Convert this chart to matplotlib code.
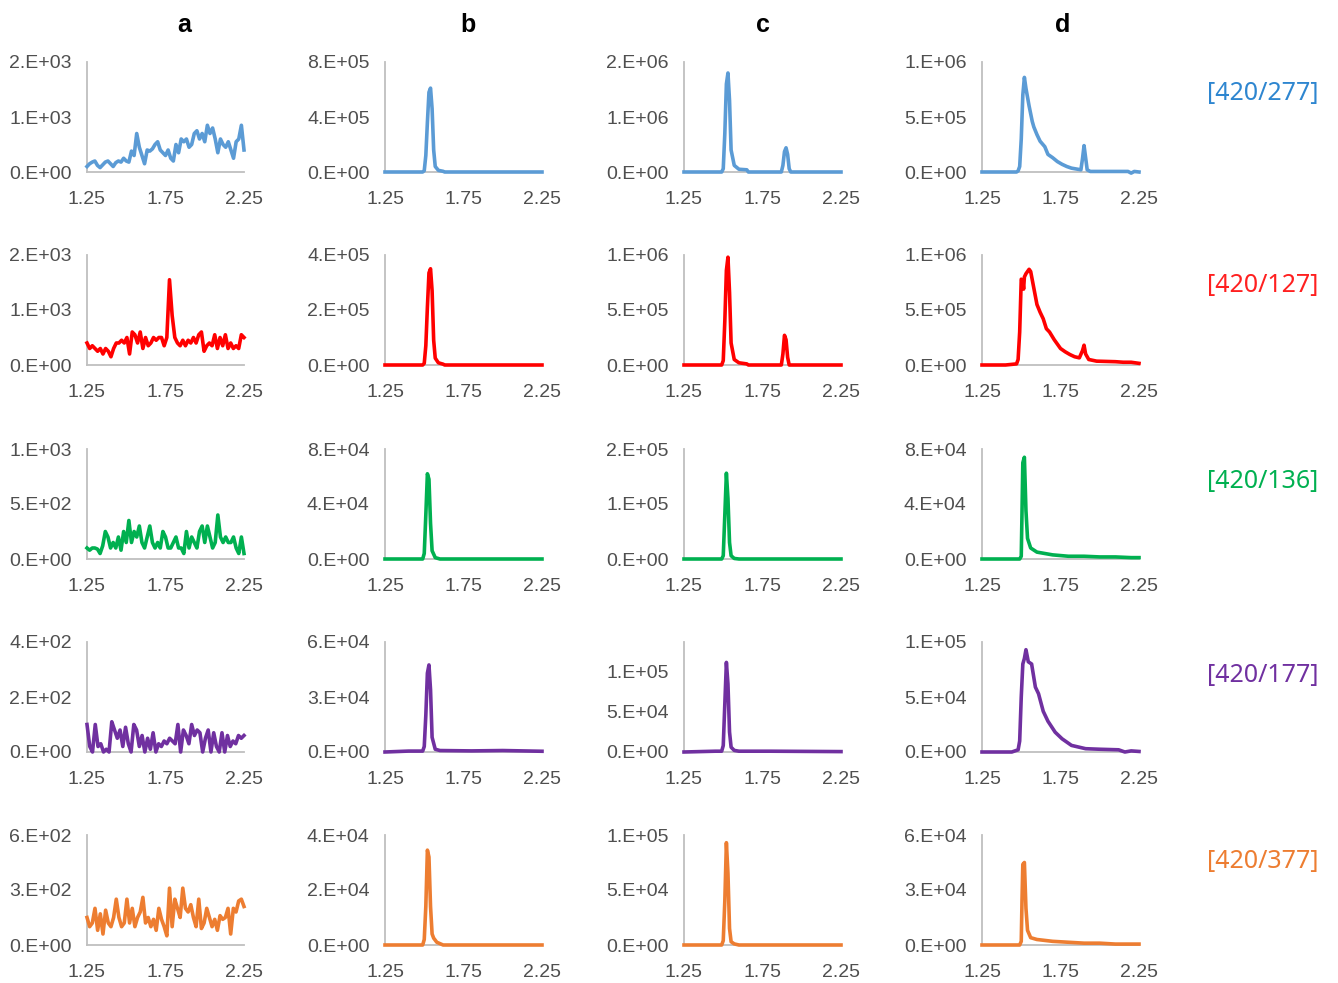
import numpy as np
import matplotlib
matplotlib.use("Agg")
import matplotlib.pyplot as plt
from matplotlib.ticker import FuncFormatter

#%% ---------- Data -----------------------------------
col_titles = ["a", "b", "c", "d"]
row_labels = ["[420/277]", "[420/127]", "[420/136]", "[420/177]", "[420/377]"]
line_colors = ["#5B9BD5", "#FF0000", "#00B050", "#7030A0", "#ED7D31"]
label_colors = ["#2E86D0", "#FF2020", "#00B050", "#7030A0", "#ED7D31"]
xticks = [1.25, 1.75, 2.25]

# column a: noisy traces, evenly sampled between 1.25 and 2.25
a_277 = [100, 150, 180, 200, 120, 80, 130, 180, 200, 150, 100, 170, 200, 180, 250, 200, 180, 380,
         300, 700, 450, 300, 150, 400, 380, 420, 500, 550, 400, 350, 300, 400, 250, 200, 500, 350,
         600, 550, 600, 450, 500, 700, 750, 600, 700, 550, 850, 700, 800, 600, 350, 600, 500, 450,
         550, 400, 250, 550, 600, 850, 400]
a_127 = [400, 300, 350, 300, 250, 300, 200, 300, 250, 150, 300, 400, 400, 450, 400, 500, 200, 600,
         550, 400, 600, 300, 500, 350, 400, 500, 450, 500, 500, 350, 500, 1550, 900, 500, 400, 350,
         450, 350, 450, 400, 500, 400, 550, 600, 250, 350, 400, 350, 550, 300, 500, 350, 550, 300,
         400, 300, 350, 300, 550, 500]
a_136 = [100, 80, 100, 100, 90, 50, 120, 250, 200, 100, 150, 100, 200, 80, 250, 150, 350, 150, 250,
         200, 300, 150, 100, 200, 300, 150, 100, 150, 100, 250, 200, 100, 100, 150, 200, 100, 100,
         50, 250, 100, 200, 150, 100, 250, 300, 150, 300, 200, 100, 150, 400, 200, 150, 200, 150,
         150, 200, 100, 50, 200, 50]
a_177 = [100, 20, 0, 100, 20, 30, 0, 10, 0, 110, 80, 50, 80, 20, 90, 30, 0, 100, 80, 20, 60, 0, 50,
         10, 70, 0, 30, 20, 40, 30, 50, 40, 30, 100, 0, 80, 60, 30, 100, 60, 80, 70, 0, 50, 80, 0,
         70, 20, 0, 70, 0, 60, 20, 40, 30, 60, 50, 60]
a_377 = [150, 100, 120, 200, 80, 170, 60, 190, 120, 100, 150, 250, 150, 100, 120, 250, 120, 200,
         100, 150, 180, 260, 120, 150, 100, 140, 80, 200, 140, 100, 50, 310, 100, 250, 200, 150,
         310, 200, 180, 220, 150, 100, 250, 90, 120, 200, 150, 100, 140, 80, 160, 140, 150, 200,
         60, 200, 180, 240, 250, 210]

# column b: single peak (x, y)
b_277_x = [1.25, 1.49, 1.50, 1.51, 1.52, 1.53, 1.54, 1.55, 1.56, 1.57, 1.59, 1.62, 1.63, 2.25]
b_277_y = [0, 0, 1e4, 1.2e5, 3.6e5, 5.8e5, 6.1e5, 4.6e5, 1.6e5, 4e4, 1.2e4, 5e3, 0, 0]
b_127_x = [1.25, 1.49, 1.50, 1.51, 1.52, 1.53, 1.54, 1.55, 1.56, 1.57, 1.59, 1.62, 1.63, 2.25]
b_127_y = [0, 0, 6e3, 7e4, 2.1e5, 3.35e5, 3.5e5, 2.7e5, 9e4, 2.5e4, 8e3, 3e3, 0, 0]
b_136_x = [1.25, 1.49, 1.50, 1.51, 1.52, 1.53, 1.54, 1.55, 1.57, 1.60, 2.25]
b_136_y = [0, 0, 4e3, 3.2e4, 6.2e4, 5.8e4, 2.6e4, 6e3, 1e3, 0, 0]
b_177_x = [1.25, 1.40, 1.49, 1.50, 1.51, 1.52, 1.53, 1.54, 1.55, 1.57, 1.60, 1.80, 2.00, 2.25]
b_177_y = [0, 500, 500, 3e3, 2.0e4, 4.3e4, 4.75e4, 3.4e4, 8e3, 1.5e3, 800, 600, 800, 400]
b_377_x = [1.25, 1.49, 1.50, 1.51, 1.52, 1.53, 1.54, 1.55, 1.56, 1.58, 1.62, 2.25]
b_377_y = [0, 0, 2e3, 1.4e4, 3.45e4, 3.2e4, 1.4e4, 4e3, 2.5e3, 1e3, 0, 0]

# column c: main peak plus a later peak in the first two rows
c_277_x = [1.25, 1.49, 1.50, 1.51, 1.52, 1.53, 1.54, 1.55, 1.57, 1.60, 1.65, 1.66, 1.87, 1.88,
           1.89, 1.90, 1.91, 1.92, 1.93, 2.25]
c_277_y = [0, 0, 6e4, 7e5, 1.6e6, 1.8e6, 1.3e6, 4e5, 1.2e5, 5e4, 4e4, 0, 0, 1.2e5, 3.7e5, 4.4e5,
           3.2e5, 6e4, 0, 0]
c_127_x = [1.25, 1.49, 1.50, 1.51, 1.52, 1.53, 1.54, 1.55, 1.57, 1.60, 1.65, 1.66, 1.87, 1.88,
           1.89, 1.90, 1.91, 1.92, 2.25]
c_127_y = [0, 0, 4e4, 4e5, 8.6e5, 9.8e5, 6.6e5, 2e5, 5e4, 2e4, 1e4, 0, 0, 1e5, 2.7e5, 2.3e5,
           7e4, 0, 0]
c_136_x = [1.25, 1.49, 1.50, 1.51, 1.52, 1.53, 1.54, 1.55, 1.57, 1.60, 2.25]
c_136_y = [0, 0, 6e3, 8e4, 1.56e5, 1.1e5, 3e4, 6e3, 1e3, 0, 0]
c_177_x = [1.25, 1.45, 1.49, 1.50, 1.51, 1.52, 1.53, 1.54, 1.55, 1.57, 1.60, 1.80, 2.25]
c_177_y = [0, 1e3, 1e3, 8e3, 6e4, 1.12e5, 8.5e4, 2.5e4, 6e3, 2e3, 1e3, 1e3, 500]
c_377_x = [1.25, 1.49, 1.50, 1.51, 1.52, 1.53, 1.54, 1.55, 1.57, 1.60, 2.25]
c_377_y = [0, 0, 4e3, 4e4, 9.3e4, 6.5e4, 1.5e4, 3e3, 1e3, 0, 0]

# column d: tailing peaks
d_277_x = [1.25, 1.47, 1.48, 1.49, 1.50, 1.51, 1.52, 1.53, 1.55, 1.57, 1.58, 1.60, 1.62, 1.65,
           1.67, 1.70, 1.73, 1.76, 1.79, 1.82, 1.86, 1.88, 1.89, 1.90, 1.91, 1.92, 1.94, 2.18,
           2.20, 2.22, 2.25]
d_277_y = [0, 0, 1e4, 5e4, 3e5, 7e5, 8.6e5, 7.6e5, 6e5, 4.6e5, 4.1e5, 3.4e5, 2.8e5, 2.3e5,
           1.6e5, 1.3e5, 9.5e4, 7e4, 5e4, 3.5e4, 2.5e4, 2e4, 1.2e5, 2.4e5, 1.3e5, 2e4, 5e3, 5e3,
           -1e4, 5e3, 0]
d_127_x = [1.25, 1.40, 1.47, 1.48, 1.49, 1.50, 1.51, 1.515, 1.52, 1.53, 1.55, 1.56, 1.58, 1.60,
           1.62, 1.64, 1.66, 1.68, 1.71, 1.75, 1.78, 1.81, 1.84, 1.87, 1.89, 1.90, 1.91, 1.93,
           1.98, 2.10, 2.15, 2.20, 2.25]
d_127_y = [0, 0, 1e4, 5e4, 3e5, 7.8e5, 7.6e5, 6.9e5, 8.0e5, 8.3e5, 8.7e5, 8.5e5, 7e5, 5.5e5,
           4.8e5, 4.2e5, 3.3e5, 3.0e5, 2.3e5, 1.5e5, 1.2e5, 9.5e4, 7.5e4, 6.5e4, 1.3e5, 1.8e5,
           1.0e5, 5e4, 3.5e4, 3e4, 2.5e4, 2.5e4, 1.5e4]
d_136_x = [1.25, 1.49, 1.50, 1.505, 1.51, 1.52, 1.53, 1.54, 1.56, 1.60, 1.65, 1.70, 1.80, 1.90,
           2.00, 2.10, 2.20, 2.25]
d_136_y = [0, 0, 2e3, 3.5e4, 7e4, 7.4e4, 3.5e4, 1.5e4, 8e3, 5e3, 4e3, 3e3, 2e3, 2e3, 1.5e3, 1.5e3,
           1e3, 1e3]
d_177_x = [1.25, 1.44, 1.48, 1.49, 1.50, 1.51, 1.52, 1.53, 1.545, 1.566, 1.59, 1.61, 1.64, 1.67,
           1.716, 1.76, 1.82, 1.91, 2.00, 2.12, 2.16, 2.20, 2.25]
d_177_y = [0, 0, 2e3, 1e4, 5e4, 8e4, 8.5e4, 9.3e4, 8.2e4, 8.0e4, 5.9e4, 5.3e4, 3.7e4, 2.8e4,
           1.8e4, 1.2e4, 6e3, 3e3, 2.5e3, 2e3, 0, 1e3, 500]
d_377_x = [1.25, 1.49, 1.50, 1.505, 1.51, 1.52, 1.53, 1.54, 1.56, 1.60, 1.65, 1.70, 1.80, 1.90,
           2.00, 2.10, 2.25]
d_377_y = [0, 0, 2e3, 2.5e4, 4.4e4, 4.5e4, 2e4, 8e3, 4e3, 3e3, 2.5e3, 2e3, 1.5e3, 1e3, 1e3,
           500, 500]

# y-axis limits / ticks per panel (rows x cols)
y_ticks = [
    [[0, 1e3, 2e3], [0, 4e5, 8e5], [0, 1e6, 2e6], [0, 5e5, 1e6]],
    [[0, 1e3, 2e3], [0, 2e5, 4e5], [0, 5e5, 1e6], [0, 5e5, 1e6]],
    [[0, 5e2, 1e3], [0, 4e4, 8e4], [0, 1e5, 2e5], [0, 4e4, 8e4]],
    [[0, 2e2, 4e2], [0, 3e4, 6e4], [0, 5e4, 1e5], [0, 5e4, 1e5]],
    [[0, 3e2, 6e2], [0, 2e4, 4e4], [0, 5e4, 1e5], [0, 3e4, 6e4]],
]
y_max = [
    [2e3, 8e5, 2e6, 1e6],
    [2e3, 4e5, 1e6, 1e6],
    [1e3, 8e4, 2e5, 8e4],
    [4e2, 6e4, 1.375e5, 1e5],
    [6e2, 4e4, 1e5, 6e4],
]

col_a = [a_277, a_127, a_136, a_177, a_377]
col_b = [(b_277_x, b_277_y), (b_127_x, b_127_y), (b_136_x, b_136_y), (b_177_x, b_177_y), (b_377_x, b_377_y)]
col_c = [(c_277_x, c_277_y), (c_127_x, c_127_y), (c_136_x, c_136_y), (c_177_x, c_177_y), (c_377_x, c_377_y)]
col_d = [(d_277_x, d_277_y), (d_127_x, d_127_y), (d_136_x, d_136_y), (d_177_x, d_177_y), (d_377_x, d_377_y)]


def excel_sci(v, pos):
    # Excel "0.E+00" number format
    if v == 0:
        return "0.E+00"
    e = int(np.floor(np.log10(abs(v)) + 1e-9))
    m = int(round(v / 10 ** e))
    return f"{m}.E+{e:02d}"


#%% ---------- Figure ----------
plt.rcParams['font.family'] = ['Liberation Sans', 'DejaVu Sans']
W, H = 1338, 983
fig = plt.figure(figsize=(W / 100, H / 100), dpi=100)

col_left = [87, 385, 684, 982]
row_top = [62, 255, 449, 642, 835]
ax_w, ax_h = 157, 110
gray = "#4F4F4F"

for r in range(5):
    for c in range(4):
        ax = fig.add_axes([col_left[c] / W, 1 - (row_top[r] + ax_h) / H, ax_w / W, ax_h / H])
        if c == 0:
            y = col_a[r]
            x = np.linspace(1.25, 2.25, len(y))
        else:
            x, y = [col_b, col_c, col_d][c - 1][r]
        ax.plot(x, y, color=line_colors[r], lw=2.6, solid_joinstyle="round", zorder=3, clip_on=False)
        ax.set_xlim(1.25, 2.25)
        ax.set_ylim(0, y_max[r][c])
        ax.set_xticks(xticks)
        ax.set_xticklabels([f"{t:.2f}" for t in xticks])
        ax.set_yticks(y_ticks[r][c])
        ax.yaxis.set_major_formatter(FuncFormatter(excel_sci))
        ax.tick_params(length=0, labelsize=14, colors=gray)
        ax.tick_params(axis="x", pad=14)
        ax.tick_params(axis="y", pad=11)
        for s in ["top", "right"]:
            ax.spines[s].set_visible(False)
        for s in ["left", "bottom"]:
            ax.spines[s].set_color("#BFBFBF")
            ax.spines[s].set_linewidth(1.3)
        ax.patch.set_visible(False)

# column titles
for c, (t, xc) in enumerate(zip(col_titles, [184, 468, 763, 1063])):
    fig.text(xc / W, 1 - 25 / H, t, ha="center", va="center", fontsize=18, fontweight="bold")

# row labels on the right
for r, yc in enumerate([93, 285, 482, 676, 862]):
    fig.text(1263 / W, 1 - yc / H, row_labels[r], ha="center", va="center", fontsize=18,
             color=label_colors[r], family=["Noto Sans", "DejaVu Sans"])

fig.savefig("out.png", dpi=100)
